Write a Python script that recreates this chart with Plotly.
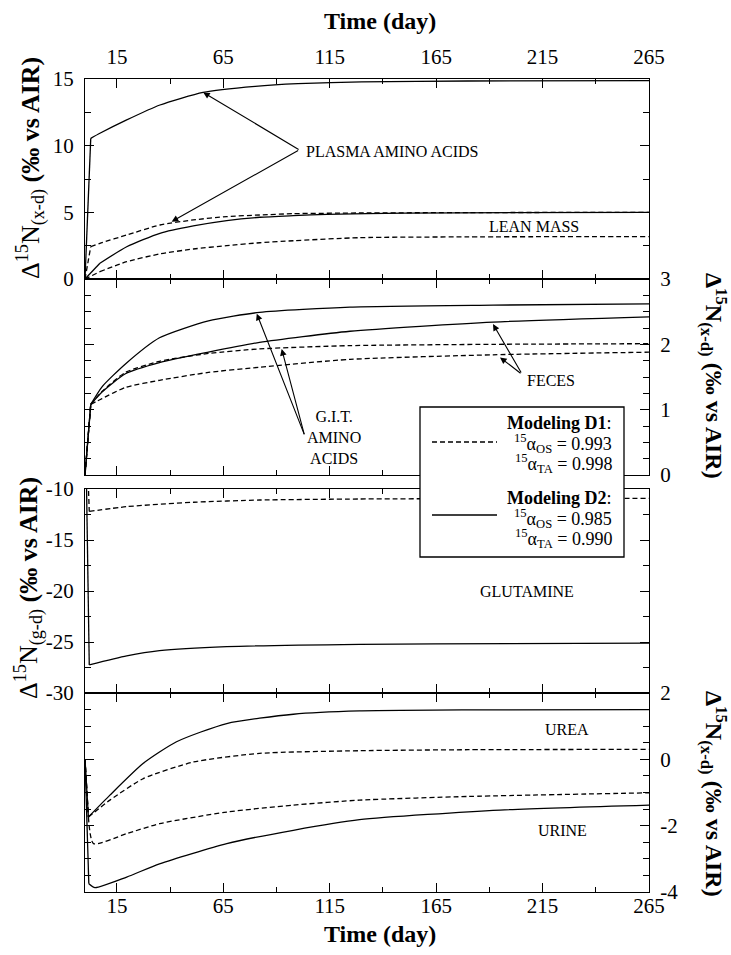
import plotly.graph_objects as go

# ---------------- data ----------------
# Panel 1: plasma amino acids & lean mass (‰)
t_plasma_d2 = [0, 2.7, 7, 19.6, 35.2, 55.5, 80, 100, 130, 180, 265]
v_plasma_d2 = [0, 10.55, 10.93, 11.93, 13.05, 14.0, 14.45, 14.65, 14.78, 14.85, 14.88]
t_plasma_d1 = [0, 2.7, 7, 19.6, 35.2, 50.9, 66.6, 82.2, 97.9, 129, 180, 265]
v_plasma_d1 = [0, 2.42, 2.68, 3.3, 4.05, 4.43, 4.68, 4.8, 4.9, 4.95, 4.98, 5.0]
t_lean_d2 = [0, 7, 19.6, 35.2, 50.9, 66.6, 82.2, 97.9, 113.6, 150, 200, 265]
v_lean_d2 = [0, 1.18, 2.42, 3.43, 3.98, 4.38, 4.63, 4.75, 4.85, 4.94, 4.98, 5.0]
t_lean_d1 = [0, 7, 19.6, 35.2, 50.9, 66.6, 82.2, 97.9, 129, 180, 265]
v_lean_d1 = [0, 0.55, 1.3, 1.88, 2.25, 2.5, 2.72, 2.87, 3.1, 3.16, 3.18]

# Panel 2: G.I.T. amino acids & feces (‰)
t_p2 = [0, 2.7, 8, 19, 35, 58, 82, 124.5, 191.7, 265]
v_git_d2 = [0, 1.08, 1.35, 1.70, 2.10, 2.36, 2.49, 2.57, 2.60, 2.62]
v_feces_d2 = [0, 1.08, 1.27, 1.55, 1.72, 1.88, 2.03, 2.20, 2.34, 2.42]
v_git_d1 = [0, 1.08, 1.28, 1.57, 1.74, 1.86, 1.93, 1.98, 2.00, 2.01]
v_feces_d1 = [0, 1.08, 1.17, 1.34, 1.45, 1.57, 1.65, 1.77, 1.84, 1.88]

# Panel 3: glutamine (‰)
t_glu_d1 = [0, 2, 19.6, 51, 82, 129, 200, 265]
v_glu_d1 = [0, -12.2, -11.73, -11.3, -11.08, -10.98, -10.93, -10.92]
t_glu_d2 = [0, 2, 19.6, 35, 66.6, 129, 200, 265]
v_glu_d2 = [0, -27.25, -26.37, -25.85, -25.46, -25.23, -25.15, -25.12]

# Panel 4: urea & urine (‰)
t_urea_d2 = [0, 1.6, 11.7, 27.4, 43, 66.6, 97.9, 129, 180, 265]
v_urea_d2 = [0, -1.74, -1.08, -0.12, 0.53, 1.08, 1.36, 1.46, 1.49, 1.50]
t_urea_d1 = [0, 1.6, 11.7, 27.4, 51, 82, 129, 180, 265]
v_urea_d1 = [0, -1.74, -1.23, -0.58, -0.08, 0.18, 0.26, 0.29, 0.30]
t_urine_d1 = [0, 1.6, 4, 19.6, 35, 66.6, 97.9, 129, 180, 265]
v_urine_d1 = [0, -1.74, -2.54, -2.24, -1.94, -1.59, -1.38, -1.23, -1.12, -1.01]
t_urine_d2 = [0, 1.8, 4.7, 19.6, 35, 66.6, 97.9, 129, 195, 265]
v_urine_d2 = [0, -3.75, -3.87, -3.55, -3.15, -2.54, -2.14, -1.82, -1.53, -1.38]

# ticks
x_ticks = [15, 65, 115, 165, 215, 265]
x_minor = [40, 90, 140, 190, 240]
y1_ticks = [0, 5, 10, 15]
y1_minor = [2.5, 7.5, 12.5]
y2_ticks = [0, 1, 2, 3]
y2_minor = [0.25, 0.5, 0.75, 1.25, 1.5, 1.75, 2.25, 2.5, 2.75]
y3_ticks = [-30, -25, -20, -15, -10]
y3_minor = [-27.5, -22.5, -17.5, -12.5]
y4_ticks = [-4, -2, 0, 2]
y4_minor = [-3.5, -3, -2.5, -1.5, -1, -0.5, 0.5, 1, 1.5]

# ---------------- layout geometry ----------------
W, H = 731, 955
def px(x):
    return x / W
def py(y):
    return 1 - y / H

X0, X1 = 85, 649
P1 = (79, 279)
P2 = (279, 475)
P3 = (489, 693)
P4 = (693, 892)

SERIF = "Liberation Serif, Times New Roman, serif"
DASH = "5px,3px"
BLK = "black"

fig = go.Figure()

def add(t, v, dash, n):
    xa = "x" if n == 1 else f"x{n}"
    ya = "y" if n == 1 else f"y{n}"
    # initial jump drawn straight, the relaxation curve smoothed
    fig.add_trace(go.Scatter(
        x=t[:2], y=v[:2], mode="lines",
        line=dict(color=BLK, width=1.3, dash=dash),
        xaxis=xa, yaxis=ya, showlegend=False, hoverinfo="skip"))
    fig.add_trace(go.Scatter(
        x=t[1:], y=v[1:], mode="lines",
        line=dict(color=BLK, width=1.3, dash=dash, shape="spline", smoothing=0.6),
        xaxis=xa, yaxis=ya, showlegend=False, hoverinfo="skip"))

add(t_plasma_d2, v_plasma_d2, "solid", 1)
add(t_plasma_d1, v_plasma_d1, DASH, 1)
add(t_lean_d2, v_lean_d2, "solid", 1)
add(t_lean_d1, v_lean_d1, DASH, 1)
add(t_p2, v_git_d2, "solid", 2)
add(t_p2, v_feces_d2, "solid", 2)
add(t_p2, v_git_d1, DASH, 2)
add(t_p2, v_feces_d1, DASH, 2)
add(t_glu_d1, v_glu_d1, DASH, 3)
add(t_glu_d2, v_glu_d2, "solid", 3)
add(t_urea_d2, v_urea_d2, "solid", 4)
add(t_urea_d1, v_urea_d1, DASH, 4)
add(t_urine_d1, v_urine_d1, DASH, 4)
add(t_urine_d2, v_urine_d2, "solid", 4)

tickfont = dict(family=SERIF, size=21, color=BLK)

def xaxis(anchor, show, side, standoff):
    return dict(
        range=[0, 265], domain=[px(X0), px(X1)], anchor=anchor, side=side,
        showline=True, linecolor=BLK, linewidth=1.2, mirror="allticks",
        ticks="inside", ticklen=9, tickwidth=1.4, tickcolor=BLK,
        tickmode="array", tickvals=x_ticks, ticktext=[str(v) for v in x_ticks],
        minor=dict(tickmode="array", tickvals=x_minor, ticks="inside",
                   ticklen=5, tickwidth=1.2, tickcolor=BLK, showgrid=False),
        showgrid=False, zeroline=False, showticklabels=show, automargin=False,
        tickfont=tickfont, ticklabelstandoff=standoff, fixedrange=True)

def yaxis(anchor, dom, rng, tv, mv, side):
    return dict(
        range=rng, domain=[py(dom[1]), py(dom[0])], anchor=anchor, side=side,
        showline=True, linecolor=BLK, linewidth=1.2, mirror="allticks",
        ticks="inside", ticklen=9, tickwidth=1.4, tickcolor=BLK,
        tickmode="array", tickvals=tv, ticktext=[str(v) for v in tv],
        minor=dict(tickmode="array", tickvals=mv, ticks="inside",
                   ticklen=6, tickwidth=1.2, tickcolor=BLK, showgrid=False),
        showgrid=False, zeroline=False, showticklabels=True, automargin=False,
        tickfont=tickfont, ticklabelstandoff=6, fixedrange=True)

fig.update_layout(
    width=W, height=H, margin=dict(l=0, r=0, t=0, b=0, pad=0, autoexpand=False),
    paper_bgcolor="white", plot_bgcolor="white", showlegend=False,
    font=dict(family=SERIF, color=BLK),
    xaxis=xaxis("y", True, "top", 6),
    xaxis2=xaxis("y2", False, "bottom", 0),
    xaxis3=xaxis("y3", False, "bottom", 0),
    xaxis4=xaxis("y4", True, "bottom", -5),
    yaxis=yaxis("x", P1, [0, 15], y1_ticks, y1_minor, "left"),
    yaxis2=yaxis("x2", P2, [0, 3], y2_ticks, y2_minor, "right"),
    yaxis3=yaxis("x3", P3, [-30, -10], y3_ticks, y3_minor, "left"),
    yaxis4=yaxis("x4", P4, [-4, 2], y4_ticks, y4_minor, "right"),
)

ann = []
def title(text, x, y, angle=0, size=24):
    ann.append(dict(text=text, x=px(x), y=py(y), xref="paper", yref="paper",
                    xanchor="center", yanchor="middle", textangle=angle,
                    showarrow=False, font=dict(family=SERIF, size=size, color=BLK)))

title("<b>Time (day)</b>", 380, 21)
title("<b>Time (day)</b>", 380, 934)
title("Δ<sup>15</sup>N<sub>(x-d)</sub> <b>(‰ vs AIR)</b>", 30, 168, -90, 26)
title("Δ<sup>15</sup>N<sub>(g-d)</sub> <b>(‰ vs AIR)</b>", 28, 588, -90, 26)
title("<b>Δ<sup>15</sup>N<sub>(x-d)</sub> (‰ vs AIR)</b>", 714, 376, 90)
title("<b>Δ<sup>15</sup>N<sub>(x-d)</sub> (‰ vs AIR)</b>", 714, 794, 90)

lab_font = dict(family=SERIF, size=16, color=BLK)
def label(text, x, y, anchor="left"):
    ann.append(dict(text=text, x=px(x), y=py(y), xref="paper", yref="paper",
                    xanchor=anchor, yanchor="middle", showarrow=False, font=lab_font))

label("PLASMA AMINO ACIDS", 304, 151)
label("LEAN MASS", 487, 226)
label("G.I.T.<br>AMINO<br>ACIDS", 334, 437, "center")
label("FECES", 525, 380)
label("GLUTAMINE", 478, 591)
label("UREA", 543, 729)
label("URINE", 536, 830)

def arrow(xd, yd, n, ax, ay):
    ann.append(dict(x=xd, y=yd, xref="x" if n == 1 else f"x{n}", yref="y" if n == 1 else f"y{n}",
                    ax=ax, ay=ay, text="", showarrow=True, arrowhead=2, arrowsize=1.2,
                    arrowwidth=1.1, arrowcolor=BLK))

# plasma amino acids arrows (tail at the label, head on the curves)
arrow(55.5, 14.0, 1, 97, 58)
arrow(40.7, 4.3, 1, 128, -72)
# G.I.T. amino acids
arrow(80.7, 2.47, 2, 48, 122)
arrow(92.4, 1.93, 2, 23, 87)
# feces
arrow(191.7, 2.31, 2, 29, 50)
arrow(195.0, 1.80, 2, 22, 17)

# legend text
leg_font = dict(family=SERIF, size=18, color=BLK)
def legtext(text, y):
    ann.append(dict(text=text, x=px(614), y=py(y), xref="paper", yref="paper",
                    xanchor="right", yanchor="middle", showarrow=False, font=leg_font))

legtext("<b>Modeling D1</b>:", 423)
legtext("<sup>15</sup>α<sub>OS</sub> = 0.993", 443)
legtext("<sup>15</sup>α<sub>TA</sub> = 0.998", 463)
legtext("<b>Modeling D2</b>:", 498)
legtext("<sup>15</sup>α<sub>OS</sub> = 0.985", 518)
legtext("<sup>15</sup>α<sub>TA</sub> = 0.990", 538)

fig.update_layout(annotations=ann)

shapes = [
    dict(type="rect", xref="paper", yref="paper", x0=px(420), x1=px(624), y0=py(557), y1=py(407),
         fillcolor="white", line=dict(color=BLK, width=1.3), layer="above"),
    dict(type="line", xref="paper", yref="paper", x0=px(432), x1=px(497), y0=py(442), y1=py(442),
         line=dict(color=BLK, width=1.3, dash=DASH), layer="above"),
    dict(type="line", xref="paper", yref="paper", x0=px(432), x1=px(497), y0=py(515), y1=py(515),
         line=dict(color=BLK, width=1.3), layer="above"),
]
fig.update_layout(shapes=shapes)

fig.write_html("out.html", config={"displayModeBar": False},
               post_script="document.body.style.margin='0px';")
